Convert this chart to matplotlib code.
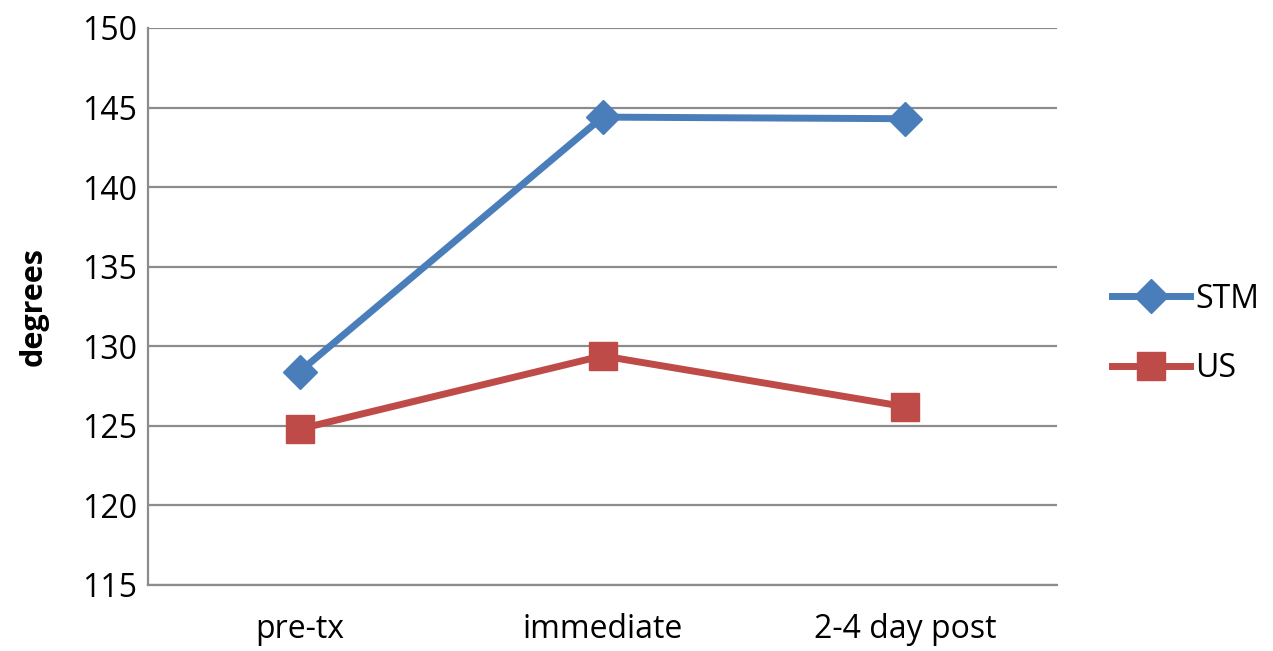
import matplotlib.pyplot as plt

categories = ["pre-tx", "immediate", "2-4 day post"]
stm = [128.4, 144.4, 144.3]
us = [124.8, 129.4, 126.2]
yticks = [115, 120, 125, 130, 135, 140, 145, 150]

plt.rcParams['font.family'] = ['Open Sans', 'DejaVu Sans']

fig = plt.figure(figsize=(12.73, 6.51), dpi=100)
ax = fig.add_axes([0.1163, 0.1014, 0.7140, 0.8556])

x = list(range(len(categories)))
ax.plot(x, stm, color='#4a7ebb', lw=5, marker='D', ms=17, label='STM', zorder=3)
ax.plot(x, us, color='#be4b48', lw=5, marker='s', ms=20, label='US', zorder=3)

ax.set_xlim(-0.5, 2.5)
ax.set_ylim(115, 150)
ax.set_yticks(yticks)
ax.set_xticks(x)
ax.set_xticklabels(categories)
ax.tick_params(axis='both', labelsize=23, length=0, colors='black')
ax.tick_params(axis='x', pad=20)
ax.tick_params(axis='y', pad=8)
ax.grid(axis='y', color='#8c8c8c', lw=1.6)
ax.set_axisbelow(True)
for s in ['top', 'right']:
    ax.spines[s].set_visible(False)
for s in ['left', 'bottom']:
    ax.spines[s].set_color('#8c8c8c')
    ax.spines[s].set_linewidth(1.6)
ax.set_ylabel('degrees', fontsize=22, fontweight='bold', labelpad=24)

fig.legend(loc='center left', bbox_to_anchor=(0.8735, 0.487), frameon=False,
           fontsize=23, handlelength=2.45, handletextpad=0.15, labelspacing=1.15,
           borderpad=0, borderaxespad=0)

fig.savefig('out.png', dpi=100, facecolor='white')
